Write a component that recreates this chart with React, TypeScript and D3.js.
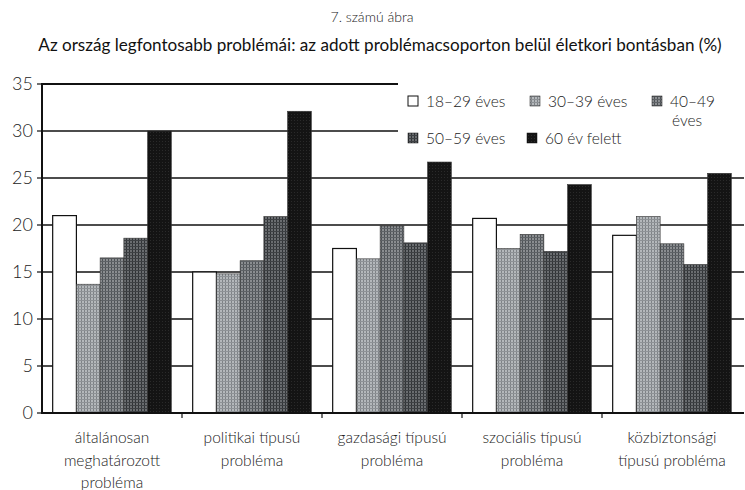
import React from "react";
import * as d3 from "d3";

const categories = [
  ["általánosan", "meghatározott", "probléma"],
  ["politikai típusú", "probléma"],
  ["gazdasági típusú", "probléma"],
  ["szociális típusú", "probléma"],
  ["közbiztonsági", "típusú probléma"],
];

const seriesNames = ["18–29 éves", "30–39 éves", "40–49 éves", "50–59 éves", "60 év felett"];

const age18_29 = [21.0, 15.0, 17.5, 20.7, 18.9];
const age30_39 = [13.7, 14.8, 16.4, 17.5, 20.9];
const age40_49 = [16.5, 16.2, 19.9, 19.0, 18.0];
const age50_59 = [18.6, 20.9, 18.1, 17.2, 15.8];
const age60plus = [30.0, 32.1, 26.7, 24.3, 25.5];

const seriesValues = [age18_29, age30_39, age40_49, age50_59, age60plus];

const yTicks = [0, 5, 10, 15, 20, 25, 30, 35];

const FONT = "Lato, 'Open Sans', sans-serif";

// fills per series (pattern ids, or white)
const fills = ["#ffffff", "url(#p1)", "url(#p2)", "url(#p3)", "url(#p4)"];

export default function App() {
  const W = 745;
  const H = 490;
  const left = 42;
  const right = 744;
  const y0 = 413;
  const yTop = 84;

  const catKeys = categories.map((c) => c.join(" "));
  const x = d3.scaleBand().domain(catKeys).range([left, left + 700]).paddingInner(0).paddingOuter(0);
  const xs = d3
    .scaleBand()
    .domain(seriesNames)
    .range([0, x.bandwidth()])
    .paddingInner(0)
    .paddingOuter(0.45);
  const y = d3.scaleLinear().domain([0, 35]).range([y0, yTop]);

  return (
    <svg width={W} height={H} style={{ position: "absolute", left: 0, top: 0, background: "#fff" }}>
      <defs>
        <pattern id="p1" width="3" height="3" patternUnits="userSpaceOnUse">
          <rect width="3" height="3" fill="#b4b8bb" />
          <rect width="1" height="3" fill="#7e8286" />
          <rect width="3" height="1" fill="#8e9296" />
        </pattern>
        <pattern id="p2" width="3" height="3" patternUnits="userSpaceOnUse">
          <rect width="3" height="3" fill="#8a8d90" />
          <rect width="1" height="3" fill="#4e5256" />
          <rect width="3" height="1" fill="#5e6266" />
        </pattern>
        <pattern id="p3" width="3" height="3" patternUnits="userSpaceOnUse">
          <rect width="3" height="3" fill="#6a6d70" />
          <rect width="1" height="3" fill="#303336" />
          <rect width="3" height="1" fill="#3e4144" />
        </pattern>
        <pattern id="p4" width="3" height="3" patternUnits="userSpaceOnUse">
          <rect width="3" height="3" fill="#141414" />
          <rect width="1" height="1" fill="#2a2a2a" />
        </pattern>
      </defs>

      {/* titles */}
      <text x={372} y={22} textAnchor="middle" fontFamily={FONT} fontSize={14} fontWeight={300} fill="#222">
        7. számú ábra
      </text>
      <text x={380} y={51} textAnchor="middle" fontFamily={FONT} fontSize={17.1} fill="#111">
        Az ország legfontosabb problémái: az adott problémacsoporton belül életkori bontásban (%)
      </text>

      {/* gridlines */}
      {yTicks
        .filter((t) => t > 0)
        .map((t) => (
          <line
            key={t}
            x1={left}
            x2={right}
            y1={y(t)}
            y2={y(t)}
            stroke="#111"
            strokeWidth={t === 35 ? 2 : 1.3}
          />
        ))}

      {/* legend background covering grid */}
      <rect x={398} y={80} width={W - 398} height={72} fill="#fff" />

      {/* bars */}
      {seriesValues.map((vals, si) =>
        vals.map((v, ci) => (
          <rect
            key={`${si}-${ci}`}
            x={(x(catKeys[ci]) as number) + (xs(seriesNames[si]) as number)}
            y={y(v)}
            width={xs.bandwidth()}
            height={y0 - y(v)}
            fill={fills[si]}
            stroke={si === 0 ? "#111" : "#333"}
            strokeWidth={si === 0 ? 1.2 : 0.6}
          />
        ))
      )}

      {/* axes */}
      <line x1={left} x2={left} y1={yTop - 1} y2={y0 + 1} stroke="#111" strokeWidth={2} />
      <line x1={left} x2={right} y1={y0} y2={y0} stroke="#111" strokeWidth={2} />
      {yTicks.map((t) => (
        <g key={t}>
          <line x1={left - 5} x2={left} y1={y(t)} y2={y(t)} stroke="#111" strokeWidth={1.2} />
          <text
            x={33}
            y={y(t)}
            dy="0.36em"
            textAnchor="end"
            fontFamily={FONT}
            fontSize={18}
            fontWeight={300}
            fill="#222"
          >
            {t}
          </text>
        </g>
      ))}
      {catKeys.slice(1).map((k) => (
        <line key={k} x1={x(k)} x2={x(k)} y1={y0} y2={y0 + 5} stroke="#111" strokeWidth={1.2} />
      ))}

      {/* category labels */}
      {categories.map((lines, ci) => (
        <text
          key={ci}
          x={(x(catKeys[ci]) as number) + x.bandwidth() / 2}
          y={443}
          textAnchor="middle"
          fontFamily={FONT}
          fontSize={15.5}
          fontWeight={300}
          fill="#222"
        >
          {lines.map((l, li) => (
            <tspan key={li} x={(x(catKeys[ci]) as number) + x.bandwidth() / 2} dy={li === 0 ? 0 : 22.5}>
              {l}
            </tspan>
          ))}
        </text>
      ))}

      {/* legend */}
      {[
        { si: 0, x: 408, y: 101 },
        { si: 1, x: 530, y: 101 },
        { si: 2, x: 652, y: 101 },
        { si: 3, x: 408, y: 138 },
        { si: 4, x: 527, y: 138 },
      ].map(({ si, x: lx, y: ly }) => (
        <g key={si}>
          <rect
            x={lx}
            y={ly - 5}
            width={10}
            height={10}
            fill={fills[si]}
            stroke="#111"
            strokeWidth={si === 0 ? 1 : 0.5}
          />
          {si === 2 ? (
            <text x={lx + 18} y={ly} dy="0.36em" fontFamily={FONT} fontSize={15.5} fontWeight={300} fill="#222">
              <tspan x={lx + 18}>40–49</tspan>
              <tspan x={lx + 20} dy={19}>
                éves
              </tspan>
            </text>
          ) : (
            <text x={lx + 18} y={ly} dy="0.36em" fontFamily={FONT} fontSize={15.5} fontWeight={300} fill="#222">
              {seriesNames[si]}
            </text>
          )}
        </g>
      ))}
    </svg>
  );
}
